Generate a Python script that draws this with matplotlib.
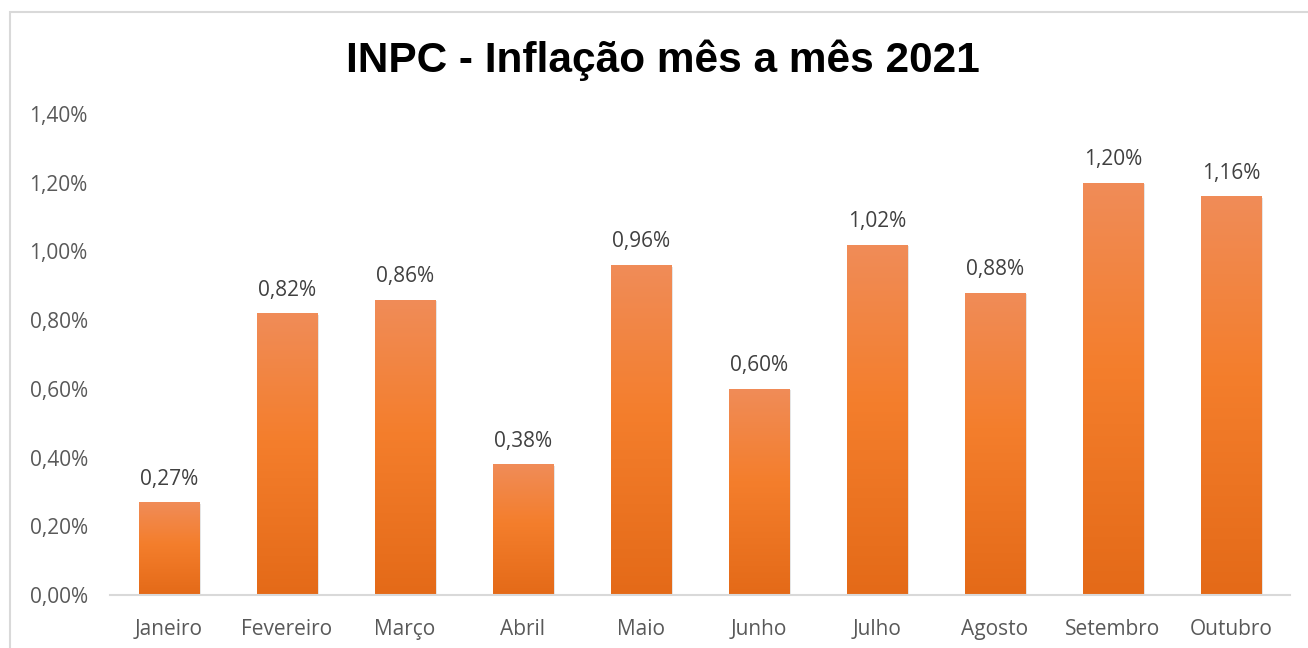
import matplotlib
matplotlib.use("Agg")
import matplotlib.pyplot as plt
import numpy as np
from matplotlib.patches import Rectangle
from matplotlib.colors import LinearSegmentedColormap

meses = ["Janeiro", "Fevereiro", "Março", "Abril", "Maio", "Junho",
         "Julho", "Agosto", "Setembro", "Outubro"]
inpc = [0.27, 0.82, 0.86, 0.38, 0.96, 0.60, 1.02, 0.88, 1.20, 1.16]
yticks = [0.0, 0.2, 0.4, 0.6, 0.8, 1.0, 1.2, 1.4]

def pct(v):
    return ("%.2f%%" % v).replace(".", ",")

plt.rcParams['font.family'] = ['Open Sans', 'DejaVu Sans']

fig = plt.figure(figsize=(13.08, 6.48), dpi=100)
ax = fig.add_axes([110 / 1308, 53 / 648, 1180 / 1308, 481 / 648])

# moldura do grafico
fig.patches.append(Rectangle((10 / 1308, -0.1), 1.2, (648 - 12) / 648 + 0.1,
                             transform=fig.transFigure, fill=False,
                             edgecolor="#D9D9D9", linewidth=1.5))

# gradiente das barras (topo claro -> base escura)
cmap = LinearSegmentedColormap.from_list(
    "laranja", [(0.0, "#E46A18"), (0.55, "#F47E2C"), (1.0, "#F08C58")])
grad = np.linspace(0, 1, 256).reshape(-1, 1)

x = np.arange(len(meses))
w = 0.51
bars = ax.bar(x, inpc, width=w, color="none", zorder=3)
for b, v in zip(bars, inpc):
    x0 = b.get_x()
    # sombra leve
    ax.add_patch(Rectangle((x0 + 0.015, 0), w, v - 0.004, facecolor="#000000",
                           alpha=0.10, linewidth=0, zorder=2))
    im = ax.imshow(grad, cmap=cmap, aspect="auto", origin="lower",
                   extent=(x0, x0 + w, 0, v), zorder=3)
    im.set_clip_path(b)
    ax.text(x0 + w / 2, v + 0.037, pct(v), ha="center", va="bottom",
            fontsize=15, color="#404040")

ax.set_xlim(-0.5, len(meses) - 0.5)
ax.set_ylim(0, 1.4)
ax.set_xticks(x)
ax.set_xticklabels(meses, fontsize=15, color="#595959")
ax.set_yticks(yticks)
ax.set_yticklabels([pct(t) for t in yticks], fontsize=15, color="#595959")
ax.tick_params(length=0)
ax.tick_params(axis="x", pad=17)
ax.tick_params(axis="y", pad=16)
for s in ["top", "right", "left"]:
    ax.spines[s].set_visible(False)
ax.spines["bottom"].set_color("#D9D9D9")
ax.spines["bottom"].set_linewidth(1.5)
ax.spines["bottom"].set_zorder(4)

fig.text(663 / 1308, 1 - 60 / 648, "INPC - Inflação mês a mês 2021",
         ha="center", va="center", fontsize=30.5, fontweight="bold",
         family=["Liberation Sans", "DejaVu Sans"], color="#000000")

fig.savefig("out.png", dpi=100, facecolor="white")
